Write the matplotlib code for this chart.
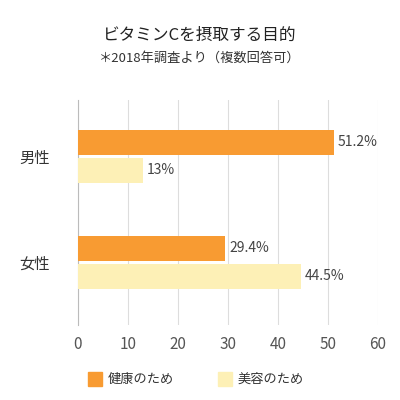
import matplotlib
matplotlib.use("Agg")
import matplotlib.pyplot as plt
import numpy as np

plt.rcParams['font.family'] = ['Noto Sans CJK JP', 'DejaVu Sans']

categories = ["男性", "女性"]
health = [51.2, 29.4]
beauty = [13, 44.5]
health_labels = ["51.2%", "29.4%"]
beauty_labels = ["13%", "44.5%"]
series_names = ["健康のため", "美容のため"]
c1, c2 = "#F89B32", "#FDF0B6"

fig = plt.figure(figsize=(4, 4), dpi=100)
ax = fig.add_axes([0.195, 0.1875, 0.75, 0.5625])
y = np.arange(len(categories))
off, h = 0.132, 0.236
ax.barh(y - off, health, height=h, color=c1, zorder=3)
ax.barh(y + off, beauty, height=h, color=c2, zorder=3)
for yi, v, t in zip(y, health, health_labels):
    ax.text(v + 0.8, yi - off, t, va="center", ha="left", fontsize=10, color="#444444")
for yi, v, t in zip(y, beauty, beauty_labels):
    ax.text(v + 0.8, yi + off, t, va="center", ha="left", fontsize=10, color="#444444")
ax.set_xlim(0, 60)
ax.set_ylim(1.59, -0.533)
ax.set_xticks(range(0, 61, 10))
ax.set_yticks(y)
ax.set_yticklabels(categories, fontsize=11, color="#333333")
ax.tick_params(axis="x", labelsize=11, colors="#555555", length=0, pad=8)
ax.tick_params(axis="y", length=0, pad=20)
ax.grid(axis="x", color="#dddddd", lw=0.8, zorder=0)
for s in ["top", "right", "bottom"]:
    ax.spines[s].set_visible(False)
ax.spines["left"].set_color("#bbbbbb")

fig.text(0.5, 0.90, "ビタミンCを摂取する目的", ha="center", fontsize=12, color="#222222")
fig.text(0.5, 0.845, "＊2018年調査より（複数回答可）", ha="center", fontsize=9.5, color="#333333")

from matplotlib.patches import Rectangle
for x0, col, name in [(0.22, c1, series_names[0]), (0.545, c2, series_names[1])]:
    fig.patches.append(Rectangle((x0, 0.035), 0.035, 0.035, color=col, transform=fig.transFigure))
    fig.text(x0 + 0.05, 0.052, name, va="center", fontsize=9.5, color="#333333")

fig.savefig("out.png", dpi=100)
